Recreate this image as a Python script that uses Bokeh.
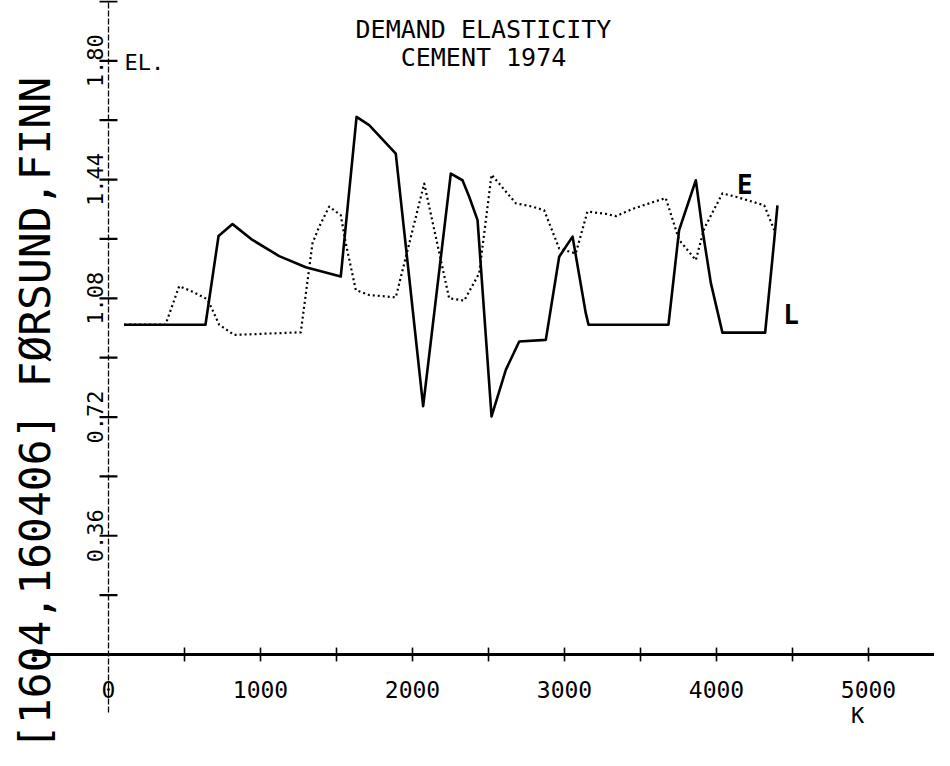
from bokeh.plotting import figure
from bokeh.models import Range1d
from bokeh.core.properties import value
from bokeh.embed import file_html
from bokeh.resources import INLINE

# ---- data ----
L_x = [103, 638, 724, 816, 947, 1123, 1298, 1528, 1632, 1715, 1890, 2070, 2252, 2329,
       2373, 2428, 2520, 2614, 2702, 2877, 2965, 3053, 3140, 3158, 3684, 3754, 3864,
       3908, 3963, 4039, 4320, 4380, 4401]
L_y = [1.00, 1.00, 1.269, 1.305, 1.257, 1.208, 1.174, 1.146, 1.630, 1.605, 1.519, 0.753,
       1.458, 1.438, 1.388, 1.317, 0.722, 0.863, 0.949, 0.954, 1.206, 1.267, 1.035, 1.00,
       1.00, 1.287, 1.438, 1.287, 1.126, 0.976, 0.976, 1.257, 1.362]

E_x = [103, 375, 465, 553, 651, 684, 728, 827, 1265, 1342, 1386, 1452, 1528, 1561, 1627,
       1715, 1890, 2077, 2241, 2340, 2439, 2520, 2680, 2789, 2866, 2965, 3074, 3151, 3272,
       3338, 3447, 3557, 3666, 3754, 3864, 3919, 4039, 4127, 4314, 4380]
E_y = [1.00, 1.00, 1.117, 1.100, 1.077, 1.045, 1.000, 0.969, 0.977, 1.247, 1.297, 1.358,
       1.332, 1.247, 1.105, 1.090, 1.083, 1.428, 1.080, 1.073, 1.156, 1.455, 1.368, 1.358,
       1.347, 1.231, 1.216, 1.343, 1.336, 1.329, 1.351, 1.368, 1.384, 1.257, 1.196, 1.292,
       1.398, 1.388, 1.362, 1.287]

x_ticks = [500, 1000, 1500, 2000, 2500, 3000, 3500, 4000, 4500, 5000]
x_label_vals = [0, 1000, 2000, 3000, 4000, 5000]
x_labels = ["0", "1000", "2000", "3000", "4000", "5000"]
y_ticks = [0.18, 0.36, 0.54, 0.72, 0.90, 1.08, 1.26, 1.44, 1.62, 1.80, 1.98]
y_label_vals = [0.36, 0.72, 1.08, 1.44, 1.80]
y_labels = ["0.36", "0.72", "1.08", "1.44", "1.80"]

title_lines = ["DEMAND ELASTICITY", "CEMENT 1974"]
side_label = "[1604,160406] FØRSUND,FINN"

FONT = value("DejaVu Sans Mono")

p = figure(width=934, height=750, output_backend="svg", toolbar_location=None,
           x_axis_type=None, y_axis_type=None,
           x_range=Range1d(-710.53, 5434.2), y_range=Range1d(-0.29109, 1.98302),
           min_border=0, outline_line_color=None)
p.background_fill_color = "white"
p.border_fill_color = "white"

# axes
p.segment(x0=[0], y0=[-0.176], x1=[0], y1=[1.98], line_color="black",
          line_width=1.3, line_dash="6 2")
p.segment(x0=[-500], y0=[0], x1=[5600], y1=[0], line_color="black", line_width=3)
p.segment(x0=x_ticks, y0=[-0.021] * len(x_ticks), x1=x_ticks, y1=[0.021] * len(x_ticks),
          line_color="black", line_width=1.6)
p.segment(x0=[-59] * len(y_ticks), y0=y_ticks, x1=[59] * len(y_ticks), y1=y_ticks,
          line_color="black", line_width=2.2)

# series
p.line(E_x, E_y, line_color="black", line_width=2.2, line_dash="2 3", line_join="round")
p.line(L_x, L_y, line_color="black", line_width=2.6, line_join="round")

# tick labels
p.text(x=x_label_vals, y=[-0.1052] * len(x_label_vals), text=x_labels, text_font=FONT,
       text_font_size="23px", text_align="center", text_baseline="alphabetic",
       text_color="black")
p.text(x=[-92] * len(y_label_vals), y=y_label_vals, text=y_labels, text_font=FONT,
       text_font_size="22px", text_align="center", text_baseline="alphabetic",
       angle=1.5708, text_color="black")

# annotations
p.text(x=[4928], y=[-0.185], text=["K"], text_font=FONT, text_font_size="22px",
       text_align="center", text_baseline="alphabetic", text_color="black")
p.text(x=[105], y=[1.795], text=["EL."], text_font=FONT, text_font_size="22px",
       text_align="left", text_baseline="alphabetic", text_color="black")
p.text(x=[2467, 2467], y=[1.896, 1.810], text=title_lines, text_font=FONT,
       text_font_size="25px", text_align="center", text_baseline="alphabetic",
       text_color="black")
p.text(x=[4187], y=[1.423], text=["E"], text_font=FONT, text_font_size="26px",
       text_font_style="bold", text_align="center", text_baseline="alphabetic",
       text_color="black")
p.text(x=[4490], y=[1.030], text=["L"], text_font=FONT, text_font_size="26px",
       text_font_style="bold", text_align="center", text_baseline="alphabetic",
       text_color="black")
p.text(x=[-486.8], y=[0.7308], text=[side_label], text_font=FONT,
       text_font_size="43px", text_align="center", text_baseline="alphabetic",
       angle=1.5708, text_color="black")

open("out.html", "w").write(file_html(p, INLINE))
